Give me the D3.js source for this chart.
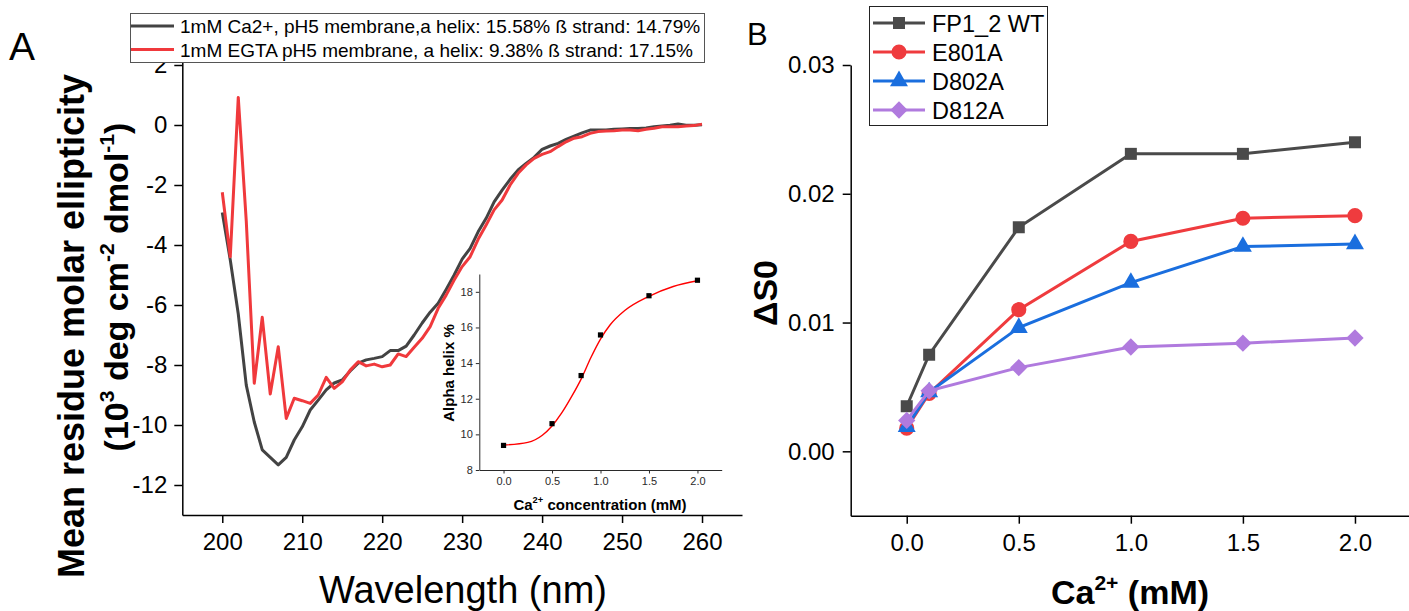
<!DOCTYPE html>
<html>
<head>
<meta charset="utf-8">
<script src="https://cdn.jsdelivr.net/npm/d3@7"></script>
<style>
body { margin: 0; background: #fff; }
svg { display: block; font-family: "Liberation Sans", Arial, sans-serif; }
</style>
</head>
<body>
<svg id="chart" width="1409" height="611"></svg>
<script>
// ---- panel A: CD spectra ----
const wavelength = [200, 201, 202, 203, 204, 205, 206, 207, 208, 209, 210, 211, 212, 213, 214, 215,
    216, 217, 218, 219, 220, 221, 222, 223, 224, 225, 226, 227, 228, 229, 230, 231, 232, 233, 234,
    235, 236, 237, 238, 239, 240, 241, 242, 243, 244, 245, 246, 247, 248, 249, 250, 251, 252, 253,
    254, 255, 256, 257, 258, 259, 260];
const ellipCa = [-2.92, -4.5, -6.3, -8.67, -9.9, -10.83, -11.08, -11.33, -11.08, -10.5, -10.06, -9.5,
    -9.17, -8.83, -8.6, -8.5, -8.2, -7.94, -7.83, -7.78, -7.72, -7.52, -7.52, -7.37, -7.0, -6.6, -6.24,
    -5.94, -5.48, -5.0, -4.47, -4.11, -3.56, -3.11, -2.56, -2.17, -1.81, -1.5, -1.28, -1.08, -0.81,
    -0.7, -0.61, -0.48, -0.37, -0.26, -0.17, -0.17, -0.17, -0.14, -0.13, -0.12, -0.12, -0.1, -0.06,
    -0.03, -0.01, 0.03, -0.01, -0.01, 0.01];
const ellipEgta = [-2.24, -4.39, 0.92, -3.2, -8.61, -6.41, -8.97, -7.39, -9.78, -9.11, -9.19, -9.28,
    -9.0, -8.41, -8.78, -8.56, -8.17, -7.89, -8.03, -7.97, -8.06, -8.0, -7.63, -7.72, -7.41, -7.11,
    -6.72, -6.11, -5.67, -5.17, -4.72, -4.39, -3.81, -3.33, -2.83, -2.5, -2.0, -1.61, -1.33, -1.11,
    -0.98, -0.89, -0.72, -0.56, -0.44, -0.39, -0.28, -0.22, -0.2, -0.19, -0.17, -0.17, -0.19, -0.14,
    -0.11, -0.06, -0.06, -0.06, -0.03, -0.02, 0.03];
const legendA = [
    '1mM Ca2+, pH5 membrane,a helix: 15.58% \u00df strand: 14.79%',
    '1mM EGTA pH5 membrane, a helix: 9.38% \u00df strand: 17.15%'
];
const aTicksX = [200, 210, 220, 230, 240, 250, 260];
const aMinorX = [195, 205, 215, 225, 235, 245, 255, 265];
const aTicksY = [-12, -10, -8, -6, -4, -2, 0, 2];
const aMinorY = [-13, -11, -9, -7, -5, -3, -1, 1, 3];

// ---- inset: helix vs Ca ----
const insetConc = [0, 0.5, 0.8, 1.0, 1.5, 2.0];
const insetHelix = [9.38, 10.6, 13.3, 15.58, 17.78, 18.65];
const fitConc = [0, 0.25, 0.4, 0.5, 0.6, 0.7, 0.8, 0.9, 1.0, 1.1, 1.25, 1.5, 1.75, 2.0];
const fitHelix = [9.4, 9.55, 9.95, 10.47, 11.2, 12.1, 13.1, 14.3, 15.35, 16.15, 16.95, 17.75, 18.3, 18.62];
const insetTicksX = [0, 0.5, 1.0, 1.5, 2.0];
const insetMinorX = [-0.25, 0.25, 0.75, 1.25, 1.75, 2.25];
const insetTicksY = [8, 10, 12, 14, 16, 18];
const insetMinorY = [9, 11, 13, 15, 17, 19];

// ---- panel B: delta S0 ----
const caConc = [0, 0.1, 0.5, 1.0, 1.5, 2.0];
const seriesNames = ['FP1_2 WT', 'E801A', 'D802A', 'D812A'];
const wtS0 = [0.0035, 0.0075, 0.0174, 0.0231, 0.0231, 0.0240];
const e801aS0 = [0.0018, 0.0045, 0.0110, 0.0163, 0.0181, 0.0183];
const d802aS0 = [0.0019, 0.0046, 0.0096, 0.0131, 0.0159, 0.0161];
const d812aS0 = [0.0024, 0.0047, 0.0065, 0.0081, 0.0084, 0.0088];
const bTicksX = [0, 0.5, 1.0, 1.5, 2.0];
const bMinorX = [-0.25, 0.25, 0.75, 1.25, 1.75, 2.25];
const bTicksY = [0, 0.01, 0.02, 0.03];
const bMinorY = [-0.005, 0.005, 0.015, 0.025];

const B_COLORS = ['#4a4a4a', '#ef3b3e', '#1a6ede', '#b07ade'];
const B_SYMBOLS = ['square', 'circle', 'triangle', 'diamond'];

const svg = d3.select('#chart');

function styleAxis(g, fontSize, color) {
    g.selectAll('path.domain').attr('stroke', color).attr('stroke-width', 1.5);
    g.selectAll('.tick line').attr('stroke', color).attr('stroke-width', 1.5);
    g.selectAll('.tick text').attr('fill', color).attr('font-size', fontSize);
    g.attr('font-family', null);
}

// draws text with superscript parts, parts = [[text, isSup], ...]
function richText(sel, parts, fs) {
    const shift = fs * 0.42;
    let up = false;
    parts.forEach(([t, sup]) => {
        const ts = sel.append('tspan').text(t);
        if (sup) {
            ts.attr('font-size', fs * 0.62).attr('dy', up ? 0 : -shift);
            up = true;
        } else {
            ts.attr('dy', up ? shift : 0);
            up = false;
        }
    });
    return sel;
}

function drawAxes(g, x, y, opt) {
    const xa = g.append('g').attr('transform', `translate(0,${y.range()[0]})`);
    xa.call(d3.axisBottom(x).tickValues(opt.minorX).tickSize(4).tickSizeOuter(0).tickFormat(''));
    xa.call(d3.axisBottom(x).tickValues(opt.ticksX).tickSize(opt.major).tickSizeOuter(0)
        .tickPadding(opt.padX).tickFormat(opt.fmtX));
    const ya = g.append('g').attr('transform', `translate(${x.range()[0]},0)`);
    ya.call(d3.axisLeft(y).tickValues(opt.minorY).tickSize(4).tickSizeOuter(0).tickFormat(''));
    ya.call(d3.axisLeft(y).tickValues(opt.ticksY).tickSize(opt.major).tickSizeOuter(0)
        .tickPadding(opt.padY).tickFormat(opt.fmtY));
    [xa, ya].forEach(a => styleAxis(a, opt.fs, opt.color));
    if (opt.minorLen) {
        xa.selectAll('.tick line').filter(function() { return +d3.select(this).attr('y2') === 4; })
            .attr('y2', opt.minorLen);
        ya.selectAll('.tick line').filter(function() { return +d3.select(this).attr('x2') === -4; })
            .attr('x2', -opt.minorLen);
    }
}

// ================= panel A =================
const xA = d3.scaleLinear().domain([195, 265]).range([182.3, 742]);
const yA = d3.scaleLinear().domain([-13, 3]).range([515, 35]);
const gA = svg.append('g');

drawAxes(gA, xA, yA, {
    minorX: aMinorX, ticksX: aTicksX, minorY: aMinorY, ticksY: aTicksY,
    major: 8, padX: 10, padY: 7, fs: 24, color: '#000',
    fmtX: d => d, fmtY: d => String(d)
});

const lineA = d3.line().x((d, i) => xA(wavelength[i])).y(d => yA(d));
gA.append('path').datum(ellipCa).attr('d', lineA)
    .attr('fill', 'none').attr('stroke', '#434343').attr('stroke-width', 3).attr('stroke-linejoin', 'round');
gA.append('path').datum(ellipEgta).attr('d', lineA)
    .attr('fill', 'none').attr('stroke', '#f0393c').attr('stroke-width', 3).attr('stroke-linejoin', 'round');

gA.append('text').attr('x', 463).attr('y', 603).attr('text-anchor', 'middle')
    .attr('font-size', 38).text('Wavelength (nm)');
gA.append('text').attr('transform', 'translate(84,326) rotate(-90)').attr('text-anchor', 'middle')
    .attr('font-size', 36).attr('font-weight', 'bold').text('Mean residue molar ellipticity');
richText(gA.append('text').attr('transform', 'translate(128,287) rotate(-90)').attr('text-anchor', 'middle')
    .attr('font-size', 34).attr('font-weight', 'bold'),
    [['(10', false], ['3', true], [' deg cm', false], ['-2', true], [' dmol', false], ['-1', true], [')', false]], 34);
svg.append('text').attr('x', 9).attr('y', 60).attr('font-size', 39).text('A');

// inset
const xI = d3.scaleLinear().domain([-0.25, 2.25]).range([479.3, 721.7]);
const yI = d3.scaleLinear().domain([8, 19]).range([470, 274]);
const gI = svg.append('g');
drawAxes(gI, xI, yI, {
    minorX: insetMinorX, ticksX: insetTicksX, minorY: insetMinorY, ticksY: insetTicksY,
    major: 3.5, minorLen: 2, padX: 4, padY: 3, fs: 11, color: '#2a2a2a',
    fmtX: d3.format('.1f'), fmtY: d => d
});
gI.selectAll('path.domain, .tick line').attr('stroke-width', 1);

gI.append('path').datum(fitConc.map((c, i) => [c, fitHelix[i]]))
    .attr('d', d3.line().x(d => xI(d[0])).y(d => yI(d[1])).curve(d3.curveMonotoneX))
    .attr('fill', 'none').attr('stroke', '#ff0000').attr('stroke-width', 1.4);
gI.selectAll('rect.pt').data(insetConc).enter().append('rect')
    .attr('class', 'pt')
    .attr('x', d => xI(d) - 2.6).attr('y', (d, i) => yI(insetHelix[i]) - 2.6)
    .attr('width', 5.2).attr('height', 5.2).attr('fill', '#000');

richText(gI.append('text').attr('x', 600).attr('y', 509.5).attr('text-anchor', 'middle')
    .attr('font-size', 15).attr('font-weight', 'bold'),
    [['Ca', false], ['2+', true], [' concentration (mM)', false]], 15);
gI.append('text').attr('transform', 'translate(454,373) rotate(-90)').attr('text-anchor', 'middle')
    .attr('font-size', 15).attr('font-weight', 'bold').text('Alpha helix %');

// legend A
const legA = svg.append('g');
legA.append('rect').attr('x', 130.5).attr('y', 13.5).attr('width', 574).attr('height', 49)
    .attr('fill', '#fff').attr('stroke', '#555').attr('stroke-width', 1);
[['#434343', 26], ['#f0393c', 49.5]].forEach(([c, yy], i) => {
    legA.append('line').attr('x1', 131).attr('x2', 174).attr('y1', yy).attr('y2', yy)
        .attr('stroke', c).attr('stroke-width', 3);
    legA.append('text').attr('x', 180).attr('y', yy + 7).attr('font-size', 19).text(legendA[i]);
});

// ================= panel B =================
const xB = d3.scaleLinear().domain([-0.25, 2.25]).range([850.7, 1411]);
const yB = d3.scaleLinear().domain([-0.005, 0.03]).range([515.7, 65]);
const gB = svg.append('g');
drawAxes(gB, xB, yB, {
    minorX: bMinorX, ticksX: bTicksX, minorY: bMinorY, ticksY: bTicksY,
    major: 8, padX: 10, padY: 8, fs: 24, color: '#000',
    fmtX: d3.format('.1f'), fmtY: d3.format('.2f')
});

const symbolPath = function(kind) {
    if (kind === 'square') return d3.symbol(d3.symbolSquare, 144)();
    if (kind === 'circle') return d3.symbol(d3.symbolCircle, 180)();
    if (kind === 'triangle') return d3.symbol(d3.symbolTriangle, 140)();
    return d3.symbol(d3.symbolSquare, 150)();
};
const symbolRot = kind => kind === 'diamond' ? ' rotate(45)' : '';

const bSeries = [wtS0, e801aS0, d802aS0, d812aS0];
const lineB = d3.line().x((d, i) => xB(caConc[i])).y(d => yB(d));
bSeries.forEach((vals, si) => {
    const g = gB.append('g');
    g.append('path').datum(vals).attr('d', lineB).attr('fill', 'none')
        .attr('stroke', B_COLORS[si]).attr('stroke-width', 3);
    g.selectAll('path.mk').data(vals).enter().append('path')
        .attr('class', 'mk')
        .attr('d', symbolPath(B_SYMBOLS[si]))
        .attr('transform', (d, i) => `translate(${xB(caConc[i])},${yB(d)})` + symbolRot(B_SYMBOLS[si]))
        .attr('fill', B_COLORS[si]);
});

richText(gB.append('text').attr('x', 1130).attr('y', 604).attr('text-anchor', 'middle')
    .attr('font-size', 34).attr('font-weight', 'bold'),
    [['Ca', false], ['2+', true], [' (mM)', false]], 34);
gB.append('text').attr('transform', 'translate(777,293) rotate(-90)').attr('text-anchor', 'middle')
    .attr('font-size', 34).attr('font-weight', 'bold').text('\u0394S0');
svg.append('text').attr('x', 747).attr('y', 45).attr('font-size', 31).text('B');

// legend B
const legB = svg.append('g');
legB.append('rect').attr('x', 869.5).attr('y', 6.5).attr('width', 178).attr('height', 119)
    .attr('fill', '#fff').attr('stroke', '#222').attr('stroke-width', 1);
seriesNames.forEach((name, i) => {
    const yy = 23 + i * 29;
    legB.append('line').attr('x1', 873).attr('x2', 925).attr('y1', yy).attr('y2', yy)
        .attr('stroke', B_COLORS[i]).attr('stroke-width', 3);
    legB.append('path').attr('d', symbolPath(B_SYMBOLS[i]))
        .attr('transform', `translate(899,${yy})` + symbolRot(B_SYMBOLS[i]))
        .attr('fill', B_COLORS[i]);
    legB.append('text').attr('x', 932).attr('y', yy + 8.5).attr('font-size', 23.5).text(name);
});
</script>
</body>
</html>
